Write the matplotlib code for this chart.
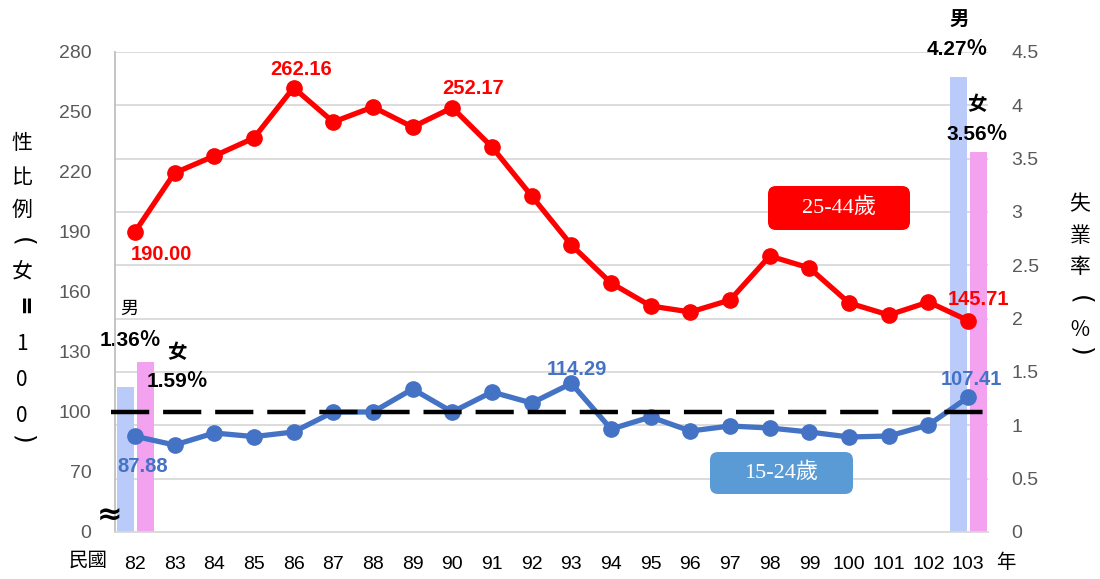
import matplotlib
matplotlib.use('Agg')
import matplotlib.pyplot as plt
import numpy as np
from matplotlib.patches import FancyBboxPatch
from matplotlib.transforms import IdentityTransform

plt.rcParams['lines.scale_dashes'] = False

# ---------------- data ----------------
years = list(range(82, 104))
ratio_25_44 = [190.00, 219.5, 228, 237, 262.16, 245, 252.5, 242.5, 252.17, 232.5,
               208, 183.5, 164.5, 153, 150, 156, 178, 172, 154.5, 148.5, 155, 145.71]
ratio_15_24 = [87.88, 83.5, 89.5, 87.7, 90, 100, 100, 111.5, 100, 110,
               104.5, 114.29, 91.5, 97.5, 90.5, 93, 92, 90, 87.5, 88, 93.5, 107.41]
bar_years = [82, 103]
unemp_male = [1.36, 4.27]
unemp_female = [1.59, 3.56]
left_tick_values = [40, 70, 100, 130, 160, 190, 220, 250, 280]   # 40 shown as 0 (axis break)
left_tick_labels = ['0', '70', '100', '130', '160', '190', '220', '250', '280']
right_tick_values = [0, 0.5, 1, 1.5, 2, 2.5, 3, 3.5, 4, 4.5]
right_tick_labels = ['0', '0.5', '1', '1.5', '2', '2.5', '3', '3.5', '4', '4.5']
parity = 100
labeled_red = [82, 86, 90, 103]
labeled_blue = [82, 93, 103]

RED = '#FF0000'
BLUE = '#4472C4'
MALE = '#BACBFA'
FEMALE = '#F2A2EE'
GRAY = '#595959'
CJK = ['Liberation Sans', 'Noto Sans CJK TC', 'DejaVu Sans']
CJKONLY = ['Noto Sans CJK TC', 'DejaVu Sans']

W, H = 1100, 579
fig = plt.figure(figsize=(W / 100, H / 100), dpi=100)
rect = [115 / W, (H - 532) / H, (988 - 115) / W, (532 - 52) / H]
ax = fig.add_axes(rect)
ax2 = ax.twinx()
ax.set_zorder(2)
ax2.set_zorder(1)
ax.patch.set_visible(False)

x = np.arange(len(years))
xi = {y: i for i, y in enumerate(years)}

# ---------------- back axes: grid + bars ----------------
ax2.set_ylim(0, 4.5)
ax2.set_yticks(right_tick_values)
ax2.set_yticklabels(right_tick_labels, fontsize=14, color=GRAY, family='Liberation Sans')
ax2.yaxis.grid(True, color='#D9D9D9', lw=1.3)
ax2.set_axisbelow(True)
ax2.tick_params(axis='y', length=0, pad=17)
for s in ax2.spines.values():
    s.set_visible(False)

bx = np.array([xi[y] for y in bar_years])
ax2.bar(bx - 0.24, unemp_male, width=0.43, color=MALE, zorder=2)
ax2.bar(bx + 0.26, unemp_female, width=0.43, color=FEMALE, zorder=2)

# bar labels
bar_lab_kw = dict(textcoords='offset pixels', ha='center', va='center', color='black',
                  fontweight='bold', family=CJK, annotation_clip=False)
m0, m1 = bx[0] - 0.24, bx[1] - 0.24
f0, f1 = bx[0] + 0.26, bx[1] + 0.26

def pct(v):
    return f'{v:.2f}％'

ax2.annotate('男', (m0, unemp_male[0]), xytext=(4, 78), fontsize=13, **{**bar_lab_kw, 'fontweight': 'normal'})
ax2.annotate(pct(unemp_male[0]), (m0, unemp_male[0]), xytext=(5, 46), fontsize=15, **bar_lab_kw)
ax2.annotate('女', (f0, unemp_female[0]), xytext=(32, 10), fontsize=14, **bar_lab_kw)
ax2.annotate(pct(unemp_female[0]), (f0, unemp_female[0]), xytext=(32, -19), fontsize=15, **bar_lab_kw)
ax2.annotate('男', (m1, unemp_male[1]), xytext=(1, 57), fontsize=14, **bar_lab_kw)
ax2.annotate(pct(unemp_male[1]), (m1, unemp_male[1]), xytext=(-1, 27), fontsize=15, **bar_lab_kw)
ax2.annotate('女', (f1, unemp_female[1]), xytext=(-1, 47), fontsize=14, **bar_lab_kw)
ax2.annotate(pct(unemp_female[1]), (f1, unemp_female[1]), xytext=(-1, 18), fontsize=15, **bar_lab_kw)

# ---------------- front axes: lines ----------------
ax.set_xlim(-0.5, len(years) - 0.5)
ax.set_ylim(40, 280)
ax.set_yticks(left_tick_values)
ax.set_yticklabels(left_tick_labels, fontsize=14, color=GRAY, family='Liberation Sans')
ax.set_xticks(x)
ax.set_xticklabels([str(y) for y in years], fontsize=14, color='black', family='Liberation Sans')
ax.tick_params(axis='y', length=0, pad=17)
ax.tick_params(axis='x', length=0, pad=17)
ax.spines['top'].set_visible(False)
ax.spines['right'].set_visible(False)
ax.spines['left'].set_color('#BFBFBF')
ax.spines['left'].set_linewidth(1.3)
ax.spines['bottom'].set_color('#D9D9D9')
ax.spines['bottom'].set_linewidth(1.3)

ax.plot(x, ratio_25_44, color=RED, lw=3.8, marker='o', ms=11, zorder=3)
ax.plot(x, ratio_15_24, color=BLUE, lw=3.8, marker='o', ms=11, zorder=3)
ax.axhline(parity, xmin=-0.005, xmax=1.0, color='black', lw=3.2,
           dashes=(27.5, 10), clip_on=False, zorder=4)

# data labels
red_off = {82: (27, -22), 86: (8, 18), 90: (21, 19), 103: (10, 21)}
for y in labeled_red:
    v = ratio_25_44[xi[y]]
    ax.annotate(f'{v:.2f}', (xi[y], v), xytext=red_off[y], textcoords='offset pixels',
                ha='center', va='center', color=RED, fontsize=14.5, fontweight='bold',
                family='Liberation Sans', annotation_clip=False)
blue_off = {82: (8, -30), 93: (6, 14), 103: (3, 18)}
for y in labeled_blue:
    v = ratio_15_24[xi[y]]
    ax.annotate(f'{v:.2f}', (xi[y], v), xytext=blue_off[y], textcoords='offset pixels',
                ha='center', va='center', color=BLUE, fontsize=14.5, fontweight='bold',
                family='Liberation Sans', annotation_clip=False)

# ---------------- series name boxes ----------------
def name_box(x0, y0, x1, y1, color, text):
    box = FancyBboxPatch((x0, H - y1), x1 - x0, y1 - y0,
                         boxstyle='round,pad=0,rounding_size=8',
                         transform=IdentityTransform(), facecolor=color,
                         edgecolor='none', zorder=10)
    fig.patches.append(box)
    fig.text((x0 + x1) / 2 / W, 1 - (y0 + y1) / 2 / H, text, ha='center', va='center',
             color='white', fontsize=16, family=['Liberation Serif', 'Noto Sans CJK TC'],
             zorder=11)

name_box(768, 186, 910, 230, RED, '25-44歲')
name_box(710, 452, 853, 494, '#5B9BD5', '15-24歲')

# ---------------- axis titles and misc text ----------------
def vchar(xp, ch, yy):
    if ch in '()':
        fig.text(xp / W, 1 - yy / H, ch, ha='center', va='center', fontsize=18,
                 family='DejaVu Sans', color='black', rotation=-90,
                 rotation_mode='anchor')
    elif ch == '=':
        fig.text(xp / W, 1 - yy / H, ch, ha='center', va='center', fontsize=17,
                 family='DejaVu Sans', fontweight='bold', color='black', rotation=-90,
                 rotation_mode='anchor')
    else:
        fig.text(xp / W, 1 - yy / H, ch, ha='center', va='center', fontsize=15,
                 family=CJKONLY, color='black')

left_title = ['性', '比', '例', '(', '女', '=', '1', '0', '0', ')']
left_y = [143, 177, 210, 242, 272, 307, 344, 380, 416, 440]
for ch, yy in zip(left_title, left_y):
    vchar(22, ch, yy)

right_title = ['失', '業', '率', '(', '％', ')']
right_y = [204, 236, 267, 300, 330, 352]
for ch, yy in zip(right_title, right_y):
    vchar(1080, ch, yy)

fig.text(88 / W, 1 - 560 / H, '民國', ha='center', va='center', fontsize=14,
         family=CJKONLY, color='black')
fig.text(1006 / W, 1 - 562 / H, '年', ha='center', va='center', fontsize=14,
         family=CJKONLY, color='black')
fig.text(110 / W, 1 - 516 / H, '≈', ha='center', va='center', fontsize=22,
         fontweight='bold', family='DejaVu Sans', color='black')

fig.savefig('out.png', dpi=100)
